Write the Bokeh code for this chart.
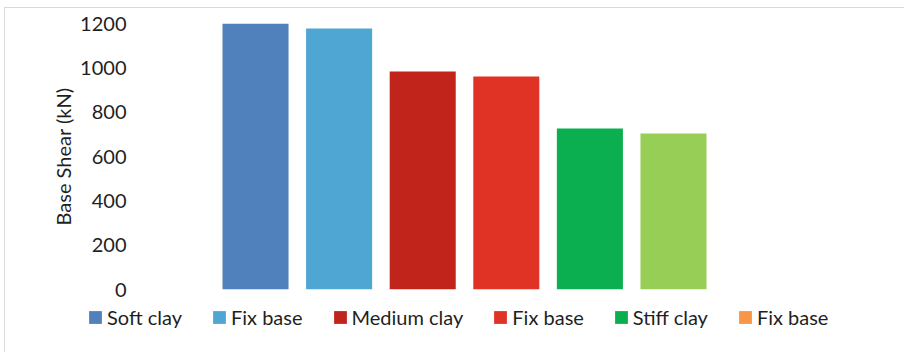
from bokeh.plotting import figure
from bokeh.models import Range1d, FixedTicker, Legend, LegendItem, ColumnDataSource
from bokeh.embed import file_html
from bokeh.resources import INLINE

# Base shear per case (kN)
series_labels = ["Soft clay", "Fix base", "Medium clay", "Fix base", "Stiff clay", "Fix base"]
base_shear = [1200, 1177, 983, 961, 726, 704]
bar_positions = [1, 2, 3, 4, 5, 6]
bar_colors = ["#5181BD", "#4FA6D3", "#C0241A", "#E03326", "#0BAF50", "#97CE55"]
legend_colors = ["#5181BD", "#4FA6D3", "#C0241A", "#E03326", "#0BAF50", "#F79646"]
y_ticks = [0, 200, 400, 600, 800, 1000, 1200]

TEXT = "#1f1f1f"
FONT = "Lato"
BORDER = "1px solid #d9d9d9"

src = ColumnDataSource(dict(x=bar_positions, top=base_shear,
                            color=bar_colors, key_color=legend_colors))

# ---- bar chart -------------------------------------------------------------
p = figure(
    width=900, height=292,
    output_backend="svg", toolbar_location=None,
    x_range=Range1d(-0.376, 8.596), y_range=Range1d(0, 1200),
    x_axis_location=None,
    min_border_left=135, min_border_right=15,
    min_border_top=15, min_border_bottom=11,
)
p.styles = {"margin-left": "4px", "margin-top": "7px",
            "border-top": BORDER, "border-left": BORDER}
p.outline_line_color = None
p.xgrid.visible = False
p.ygrid.visible = False

ax = p.yaxis[0]
ax.ticker = FixedTicker(ticks=y_ticks)
ax.axis_line_color = None
ax.major_tick_line_color = None
ax.minor_tick_line_color = None
ax.major_label_text_font = FONT
ax.major_label_text_font_size = "20px"
ax.major_label_text_color = TEXT
ax.major_label_standoff = 8
ax.axis_label = "Base Shear (kN)"
ax.axis_label_text_font = FONT
ax.axis_label_text_font_size = "20px"
ax.axis_label_text_font_style = "normal"
ax.axis_label_text_color = TEXT
ax.axis_label_standoff = 2

p.vbar(x="x", top="top", bottom=0, width=0.79, fill_color="color",
       line_color=None, source=src)

# ---- legend strip ------------------------------------------------------------
# The key renderer shares the bar data but sits outside this strip's view,
# so only its legend swatches show.
pl = figure(
    width=900, height=53,
    output_backend="svg", toolbar_location=None,
    x_range=Range1d(0, 1), y_range=Range1d(5000, 6000),
    x_axis_location=None, y_axis_location=None,
    min_border_left=0, min_border_right=0, min_border_top=0, min_border_bottom=0,
)
pl.styles = {"margin-left": "4px", "border-left": BORDER}
pl.outline_line_color = None
pl.xgrid.visible = False
pl.ygrid.visible = False

key = pl.vbar(x="x", top="top", bottom=0, width=0.79, fill_color="key_color",
              line_color=None, source=src)
items = [LegendItem(label=lab, renderers=[key], index=i)
         for i, lab in enumerate(series_labels)]
legend = Legend(
    items=items, orientation="horizontal", location=(82, 23),
    border_line_color=None, background_fill_alpha=0,
    label_text_font=FONT, label_text_font_size="20px", label_text_color=TEXT,
    glyph_width=16, glyph_height=16, label_standoff=4, spacing=29,
    padding=0, margin=0,
)
pl.add_layout(legend)

open("out.html", "w").write(file_html([p, pl], INLINE))
